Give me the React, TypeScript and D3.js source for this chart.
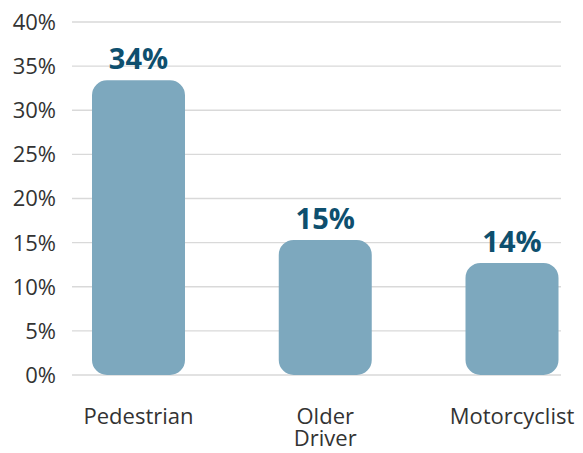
import React from "react";
import * as d3 from "d3";

const categories = ["Pedestrian", "Older Driver", "Motorcyclist"];
const categoryLines = [["Pedestrian"], ["Older", "Driver"], ["Motorcyclist"]];
const values = [33.4, 15.3, 12.7];
const valueLabels = ["34%", "15%", "14%"];
const yTicks = [0, 5, 10, 15, 20, 25, 30, 35, 40];

const W = 583;
const H = 453;
const font = "'Open Sans', 'Noto Sans', sans-serif";

export default function App() {
  const y = d3.scaleLinear().domain([0, 40]).range([375, 22]);
  const x = d3.scalePoint<string>().domain(categories).range([138.5, 512]);
  const bw = 93;
  const r = 15;
  return (
    <svg width={W} height={H} style={{ position: "absolute", left: 0, top: 0 }}>
      <rect width={W} height={H} fill="#fff" />
      {yTicks.map((t) => (
        <g key={t}>
          <line x1={72} x2={561} y1={y(t)} y2={y(t)} stroke="#d9d9d9" strokeWidth={1.3} />
          <text x={56} y={y(t)} dy="0.36em" textAnchor="end" fontFamily={font} fontSize={22} fill="#333">
            {t}%
          </text>
        </g>
      ))}
      {categories.map((c, i) => {
        const cx = x(c)!;
        const top = y(values[i]);
        const bottom = y(0);
        const path = d3.path();
        const x0 = cx - bw / 2, x1 = cx + bw / 2;
        path.moveTo(x0 + r, top);
        path.lineTo(x1 - r, top);
        path.arcTo(x1, top, x1, top + r, r);
        path.lineTo(x1, bottom - r);
        path.arcTo(x1, bottom, x1 - r, bottom, r);
        path.lineTo(x0 + r, bottom);
        path.arcTo(x0, bottom, x0, bottom - r, r);
        path.lineTo(x0, top + r);
        path.arcTo(x0, top, x0 + r, top, r);
        path.closePath();
        return (
          <g key={c}>
            <path d={path.toString()} fill="#7DA8BE" />
            <text x={cx} y={top - 11} textAnchor="middle" fontFamily={font} fontSize={29} fontWeight={700} fill="#0E4F6E">
              {valueLabels[i]}
            </text>
            {categoryLines[i].map((l, j) => (
              <text key={j} x={cx} y={424 + j * 22} textAnchor="middle" fontFamily={font} fontSize={22} fill="#333">
                {l}
              </text>
            ))}
          </g>
        );
      })}
    </svg>
  );
}
